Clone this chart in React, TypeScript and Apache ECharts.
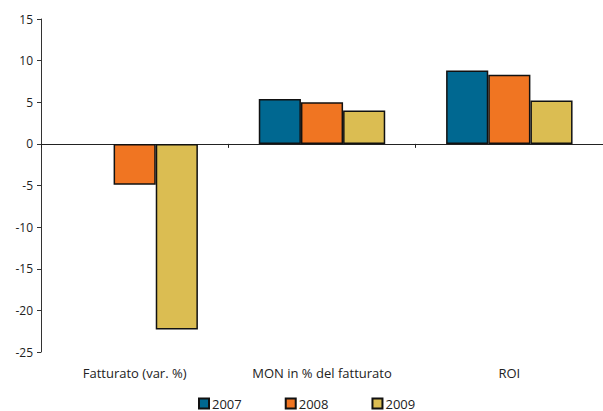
import React, { useEffect, useRef } from "react";
import * as echarts from "echarts";

const categories = ["Fatturato (var. %)", "MON in % del fatturato", "ROI"];
const years = ["2007", "2008", "2009"];
const values2007 = [null, 5.4, 8.8];
const values2008 = [-4.9, 5.0, 8.3];
const values2009 = [-22.3, 4.0, 5.2];
const colors = ["#006891", "#F07522", "#DBBD52"];
const yTicks = { min: -25, max: 15, interval: 5 };

export default function App() {
  const ref = useRef<HTMLDivElement>(null);
  useEffect(() => {
    if (!ref.current) return;
    const chart = echarts.init(ref.current, null, { renderer: "svg" });
    const font = "'Open Sans', 'Noto Sans', sans-serif";
    const seriesData = [values2007, values2008, values2009];
    chart.setOption({
      animation: false,
      textStyle: { fontFamily: font },
      grid: { left: 41, right: 0, top: 19, bottom: 59, containLabel: false },
      legend: {
        data: years,
        top: 392,
        left: 193,
        itemWidth: 10,
        itemHeight: 10,
        itemGap: 43,
        textStyle: { fontFamily: font, fontSize: 13, color: "#222", padding: [0, 0, 0, -2] },
        icon: "rect",
      },
      xAxis: [
        {
          type: "category",
          data: categories,
          position: "bottom",
          axisLine: { onZero: true, lineStyle: { color: "#222", width: 1 } },
          axisTick: { show: true, length: 4, lineStyle: { color: "#222" } },
          axisLabel: { show: false },
        },
        {
          type: "category",
          data: categories,
          position: "bottom",
          axisLine: { show: false, onZero: false },
          axisTick: { show: false },
          axisLabel: { show: true, margin: 14, fontFamily: font, fontSize: 13, color: "#222" },
        },
      ],
      yAxis: {
        type: "value",
        min: yTicks.min,
        max: yTicks.max,
        interval: yTicks.interval,
        axisLine: { show: true, lineStyle: { color: "#333" } },
        axisTick: { show: true, length: 4, lineStyle: { color: "#333" } },
        splitLine: { show: false },
        axisLabel: { margin: 8, fontFamily: font, fontSize: 12, color: "#222" },
      },
      series: years.map((y, i) => ({
        name: y,
        type: "bar",
        xAxisIndex: 0,
        data: seriesData[i],
        barWidth: "22.5%",
        barGap: "0%",
        itemStyle: { color: colors[i], borderColor: "#111", borderWidth: 1.5 },
      })),
    });
    return () => chart.dispose();
  }, []);
  return <div ref={ref} style={{ width: 603, height: 411, position: "absolute", left: 0, top: 0 }} />;
}
